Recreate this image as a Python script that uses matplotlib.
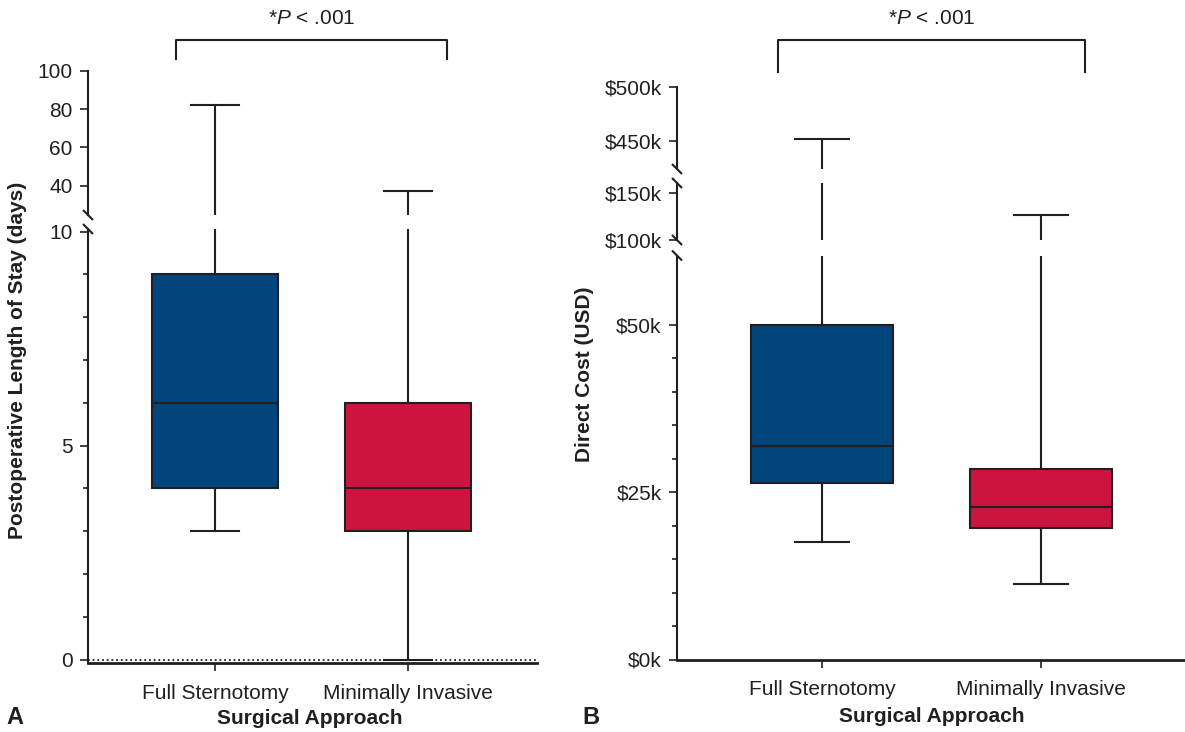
import matplotlib
matplotlib.use("Agg")
import matplotlib.pyplot as plt
from matplotlib.lines import Line2D
from matplotlib.transforms import blended_transform_factory

plt.rcParams["font.family"] = ["Liberation Sans", "DejaVu Sans"]
plt.rcParams["mathtext.fontset"] = "custom"
plt.rcParams["mathtext.rm"] = "Liberation Sans"
plt.rcParams["mathtext.it"] = "Liberation Sans:italic"

W, H = 1185, 732
INK = "#231f20"
COLORS = ["#00457c", "#cd1340"]
FS = 15

categories = ["Full Sternotomy", "Minimally Invasive"]

# postoperative length of stay (days)
los_whislo = [3, 0]
los_q1 = [4, 3]
los_med = [6, 4]
los_q3 = [9, 6]
los_whishi = [82, 37]

# direct cost (USD)
cost_whislo = [17600, 11200]
cost_q1 = [26300, 19700]
cost_med = [31900, 22800]
cost_q3 = [50000, 28500]
cost_whishi = [451000, 126000]

p_text = "*$P$ < .001"


def stats(lo, q1, med, q3, hi):
    return [dict(whislo=a, q1=b, med=c, q3=d, whishi=e, fliers=[])
            for a, b, c, d, e in zip(lo, q1, med, q3, hi)]


def px_axes(fig, x0, x1, ytop, ybot):
    return fig.add_axes([x0 / W, 1 - ybot / H, (x1 - x0) / W, (ybot - ytop) / H])


def fig_line(fig, xs, ys, **kw):
    fig.add_artist(Line2D([x / W for x in xs], [1 - y / H for y in ys],
                          transform=fig.transFigure, color=INK, lw=1.5,
                          solid_capstyle="butt", **kw))


def draw_boxes(ax, st, xlim, ylim):
    bp = ax.bxp(st, positions=[1, 2], widths=0.65, patch_artist=True,
                showfliers=False, capwidths=0.25,
                boxprops=dict(edgecolor=INK, linewidth=1.5),
                whiskerprops=dict(color=INK, linewidth=1.5),
                capprops=dict(color=INK, linewidth=1.5),
                medianprops=dict(color=INK, linewidth=1.5))
    for patch, c in zip(bp["boxes"], COLORS):
        patch.set_facecolor(c)
    ax.set_xlim(*xlim)
    ax.set_ylim(*ylim)
    for s in ("top", "right", "bottom"):
        ax.spines[s].set_visible(False)
    ax.spines["left"].set_linewidth(1.5)
    ax.spines["left"].set_color(INK)
    ax.tick_params(axis="y", direction="out", length=6, width=1.2,
                   color=INK, labelsize=FS, pad=5, labelcolor=INK)
    ax.tick_params(axis="y", which="minor", direction="out", length=3.5,
                   width=1.2, color=INK)
    ax.set_xticks([])
    ax.patch.set_alpha(0)


def finish_bottom(ax):
    ax.spines["bottom"].set_visible(True)
    ax.spines["bottom"].set_linewidth(2)
    ax.spines["bottom"].set_color(INK)
    ax.set_xticks([1, 2])
    ax.set_xticklabels(categories)
    ax.tick_params(axis="x", direction="out", length=6, width=1.2, color=INK,
                   labelsize=FS, pad=9, labelcolor=INK)


fig = plt.figure(figsize=(W / 100, H / 100), dpi=100)

# ---- panel A: length of stay ----
xl_a = (0.342, 2.668)
los = stats(los_whislo, los_q1, los_med, los_q3, los_whishi)

a_lo = px_axes(fig, 88, 537, 229, 663)
draw_boxes(a_lo, los, xl_a, (-0.08, 10.06))
a_lo.set_yticks([0, 5, 10])
a_lo.set_yticks([1, 2, 3, 4, 6, 7, 8, 9], minor=True)
a_lo.axhline(0, color=INK, lw=1.3, ls=(0, (1, 1.6)), zorder=0)
finish_bottom(a_lo)

a_hi = px_axes(fig, 88, 537, 70.7, 215)
draw_boxes(a_hi, los, xl_a, (24.7, 100))
a_hi.set_yticks([40, 60, 80, 100])

for y in (215, 229):
    fig_line(fig, [83, 93], [y - 5, y + 5])

fig.text(18 / W, 1 - 360 / H, "Postoperative Length of Stay (days)",
         rotation=90, ha="center", va="center", fontsize=FS,
         fontweight="bold", color=INK)
fig.text(310 / W, 1 - 719 / H, "Surgical Approach", ha="center",
         va="center", fontsize=FS, fontweight="bold", color=INK)
fig.text(6 / W, 1 - 718 / H, "A", ha="left", va="center", fontsize=17,
         fontweight="bold", color=INK)

tr = blended_transform_factory(a_hi.transData, fig.transFigure)
a_hi.plot([0.8, 0.8, 2.2, 2.2], [1 - 59 / H, 1 - 40 / H, 1 - 40 / H, 1 - 59 / H],
          transform=tr, color=INK, lw=1.5, clip_on=False)
a_hi.text(1.5, 1 - 19 / H, p_text, transform=tr, ha="center", va="center",
          fontsize=FS, color=INK)

# ---- panel B: direct cost ----
xl_b = (0.338, 2.658)
cost = stats(cost_whislo, cost_q1, cost_med, cost_q3, cost_whishi)

b_lo = px_axes(fig, 677, 1185, 255.5, 659.5)
draw_boxes(b_lo, cost, xl_b, (0, 60300))
b_lo.set_yticks([0, 25000, 50000])
b_lo.set_yticklabels(["$0k", "$25k", "$50k"])
b_lo.set_yticks([5000, 10000, 15000, 20000, 30000, 35000, 40000, 45000],
                minor=True)
finish_bottom(b_lo)

b_mid = px_axes(fig, 677, 1185, 183, 240)
draw_boxes(b_mid, cost, xl_b, (99500, 160750))
b_mid.set_yticks([100000, 150000])
b_mid.set_yticklabels(["$100k", "$150k"])

b_hi = px_axes(fig, 677, 1185, 87, 169)
draw_boxes(b_hi, cost, xl_b, (423400, 500000))
b_hi.set_yticks([450000, 500000])
b_hi.set_yticklabels(["$450k", "$500k"])

for y in (169, 183, 240, 255.5):
    fig_line(fig, [672, 682], [y - 5, y + 5])

fig.text(585 / W, 1 - 374 / H, "Direct Cost (USD)", rotation=90,
         ha="center", va="center", fontsize=FS, fontweight="bold", color=INK)
fig.text(932 / W, 1 - 717 / H, "Surgical Approach", ha="center",
         va="center", fontsize=FS, fontweight="bold", color=INK)
fig.text(582 / W, 1 - 718 / H, "B", ha="left", va="center", fontsize=17,
         fontweight="bold", color=INK)

tr = blended_transform_factory(b_hi.transData, fig.transFigure)
b_hi.plot([0.8, 0.8, 2.2, 2.2], [1 - 72 / H, 1 - 40 / H, 1 - 40 / H, 1 - 72 / H],
          transform=tr, color=INK, lw=1.5, clip_on=False)
b_hi.text(1.5, 1 - 19 / H, p_text, transform=tr, ha="center", va="center",
          fontsize=FS, color=INK)

fig.savefig("out.png", dpi=100)
